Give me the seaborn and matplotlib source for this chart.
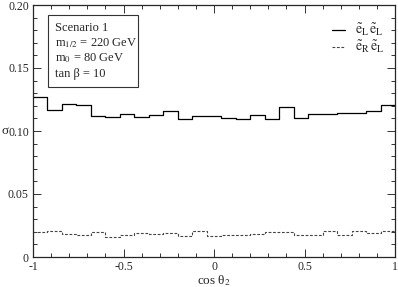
import numpy as np
import pandas as pd
import matplotlib
matplotlib.use("Agg")
import matplotlib.pyplot as plt
import seaborn as sns
from matplotlib.patches import Rectangle
from matplotlib.ticker import MultipleLocator, FixedFormatter, FixedLocator

# Angular distribution, 25 bins in cos(theta_2) from -1 to 1
n_bins = 25
cos_range = (-1.0, 1.0)
sigma_LL = [0.1272, 0.1167, 0.1217, 0.1209, 0.1122, 0.1114, 0.1133, 0.1109,
            0.1125, 0.1157, 0.1095, 0.1117, 0.1122, 0.1101, 0.1093, 0.1130,
            0.1095, 0.1193, 0.1101, 0.1138, 0.1135, 0.1146, 0.1141, 0.1157,
            0.1204]
sigma_RL = [0.0196, 0.0204, 0.0180, 0.0175, 0.0198, 0.0161, 0.0172, 0.0188,
            0.0180, 0.0190, 0.0170, 0.0206, 0.0170, 0.0178, 0.0178, 0.0183,
            0.0198, 0.0198, 0.0172, 0.0172, 0.0206, 0.0172, 0.0206, 0.0188,
            0.0209]
series_labels = [r"$\tilde{\mathrm{e}}_{\mathrm{L}}\,\tilde{\mathrm{e}}_{\mathrm{L}}$",
                 r"$\tilde{\mathrm{e}}_{\mathrm{R}}\,\tilde{\mathrm{e}}_{\mathrm{L}}$"]
info_lines = ["Scenario 1", r"m$_{1/2}$ = 220 GeV", r"m$_0$ = 80 GeV",
              "tan β = 10"]
x_ticks = [-1, -0.5, 0, 0.5, 1]
x_ticklabels = ["-1", "-0.5", "0", "0.5", "1"]
y_ticks = [0, 0.05, 0.10, 0.15, 0.20]
y_ticklabels = ["0", "0.05", "0.10", "0.15", "0.20"]

# Bin centres for the weighted histogram
width = (cos_range[1] - cos_range[0]) / n_bins
centres = cos_range[0] + width * (np.arange(n_bins) + 0.5)
df = pd.DataFrame({"cos": centres, "LL": sigma_LL, "RL": sigma_RL})

sns.set_theme(style="ticks")
plt.rcParams["font.family"] = ["Liberation Serif", "DejaVu Serif"]
plt.rcParams["mathtext.fontset"] = "stix"

fig = plt.figure(figsize=(3.98, 2.87), dpi=100)
ax = fig.add_axes([33 / 398, 30 / 287, 362 / 398, 252 / 287])

sns.histplot(data=df, x="cos", weights="LL", bins=n_bins, binrange=cos_range,
             element="step", fill=False, color="black", linewidth=0.9, ax=ax)
sns.histplot(data=df, x="cos", weights="RL", bins=n_bins, binrange=cos_range,
             element="step", fill=False, color="#444444", linewidth=0.8,
             linestyle=(0, (2.5, 1.5)), ax=ax)

ax.set_xlim(-1, 1)
ax.set_ylim(0, 0.2)
ax.xaxis.set_major_locator(FixedLocator(x_ticks))
ax.xaxis.set_major_formatter(FixedFormatter(x_ticklabels))
ax.xaxis.set_minor_locator(MultipleLocator(0.1))
ax.yaxis.set_major_locator(FixedLocator(y_ticks))
ax.yaxis.set_major_formatter(FixedFormatter(y_ticklabels))
ax.yaxis.set_minor_locator(MultipleLocator(0.01))
ax.tick_params(which="both", direction="in", top=True, right=True,
               labelsize=8.5, width=0.7, color="#333333", pad=3)
ax.tick_params(which="major", length=6)
ax.tick_params(which="minor", length=3)
for sp in ax.spines.values():
    sp.set_linewidth(0.9)
    sp.set_visible(True)

ax.set_xlabel("cos θ$_2$", fontsize=9.5, labelpad=0)
ax.set_ylabel("σ", fontsize=9.5, rotation=0, va="center", ha="center")
ax.yaxis.set_label_coords(-0.078, 0.5)

# Legend with line samples
handles = ax.lines[:2]
ax.legend(handles, series_labels, loc="upper right", frameon=False,
          fontsize=10, handlelength=0.9, handletextpad=0.7,
          labelspacing=0.05, borderaxespad=0, bbox_to_anchor=(0.985, 0.955))

# Parameter box
ax.add_patch(Rectangle((0.041, 0.675), 0.249, 0.285, transform=ax.transAxes,
                       fc="white", ec="#333333", lw=0.8, zorder=3))
for i, line in enumerate(info_lines):
    ax.text(0.061, 0.91 - i * 0.061, line, transform=ax.transAxes,
            fontsize=9, va="center", ha="left", zorder=4)

fig.savefig("out.png", dpi=100)
